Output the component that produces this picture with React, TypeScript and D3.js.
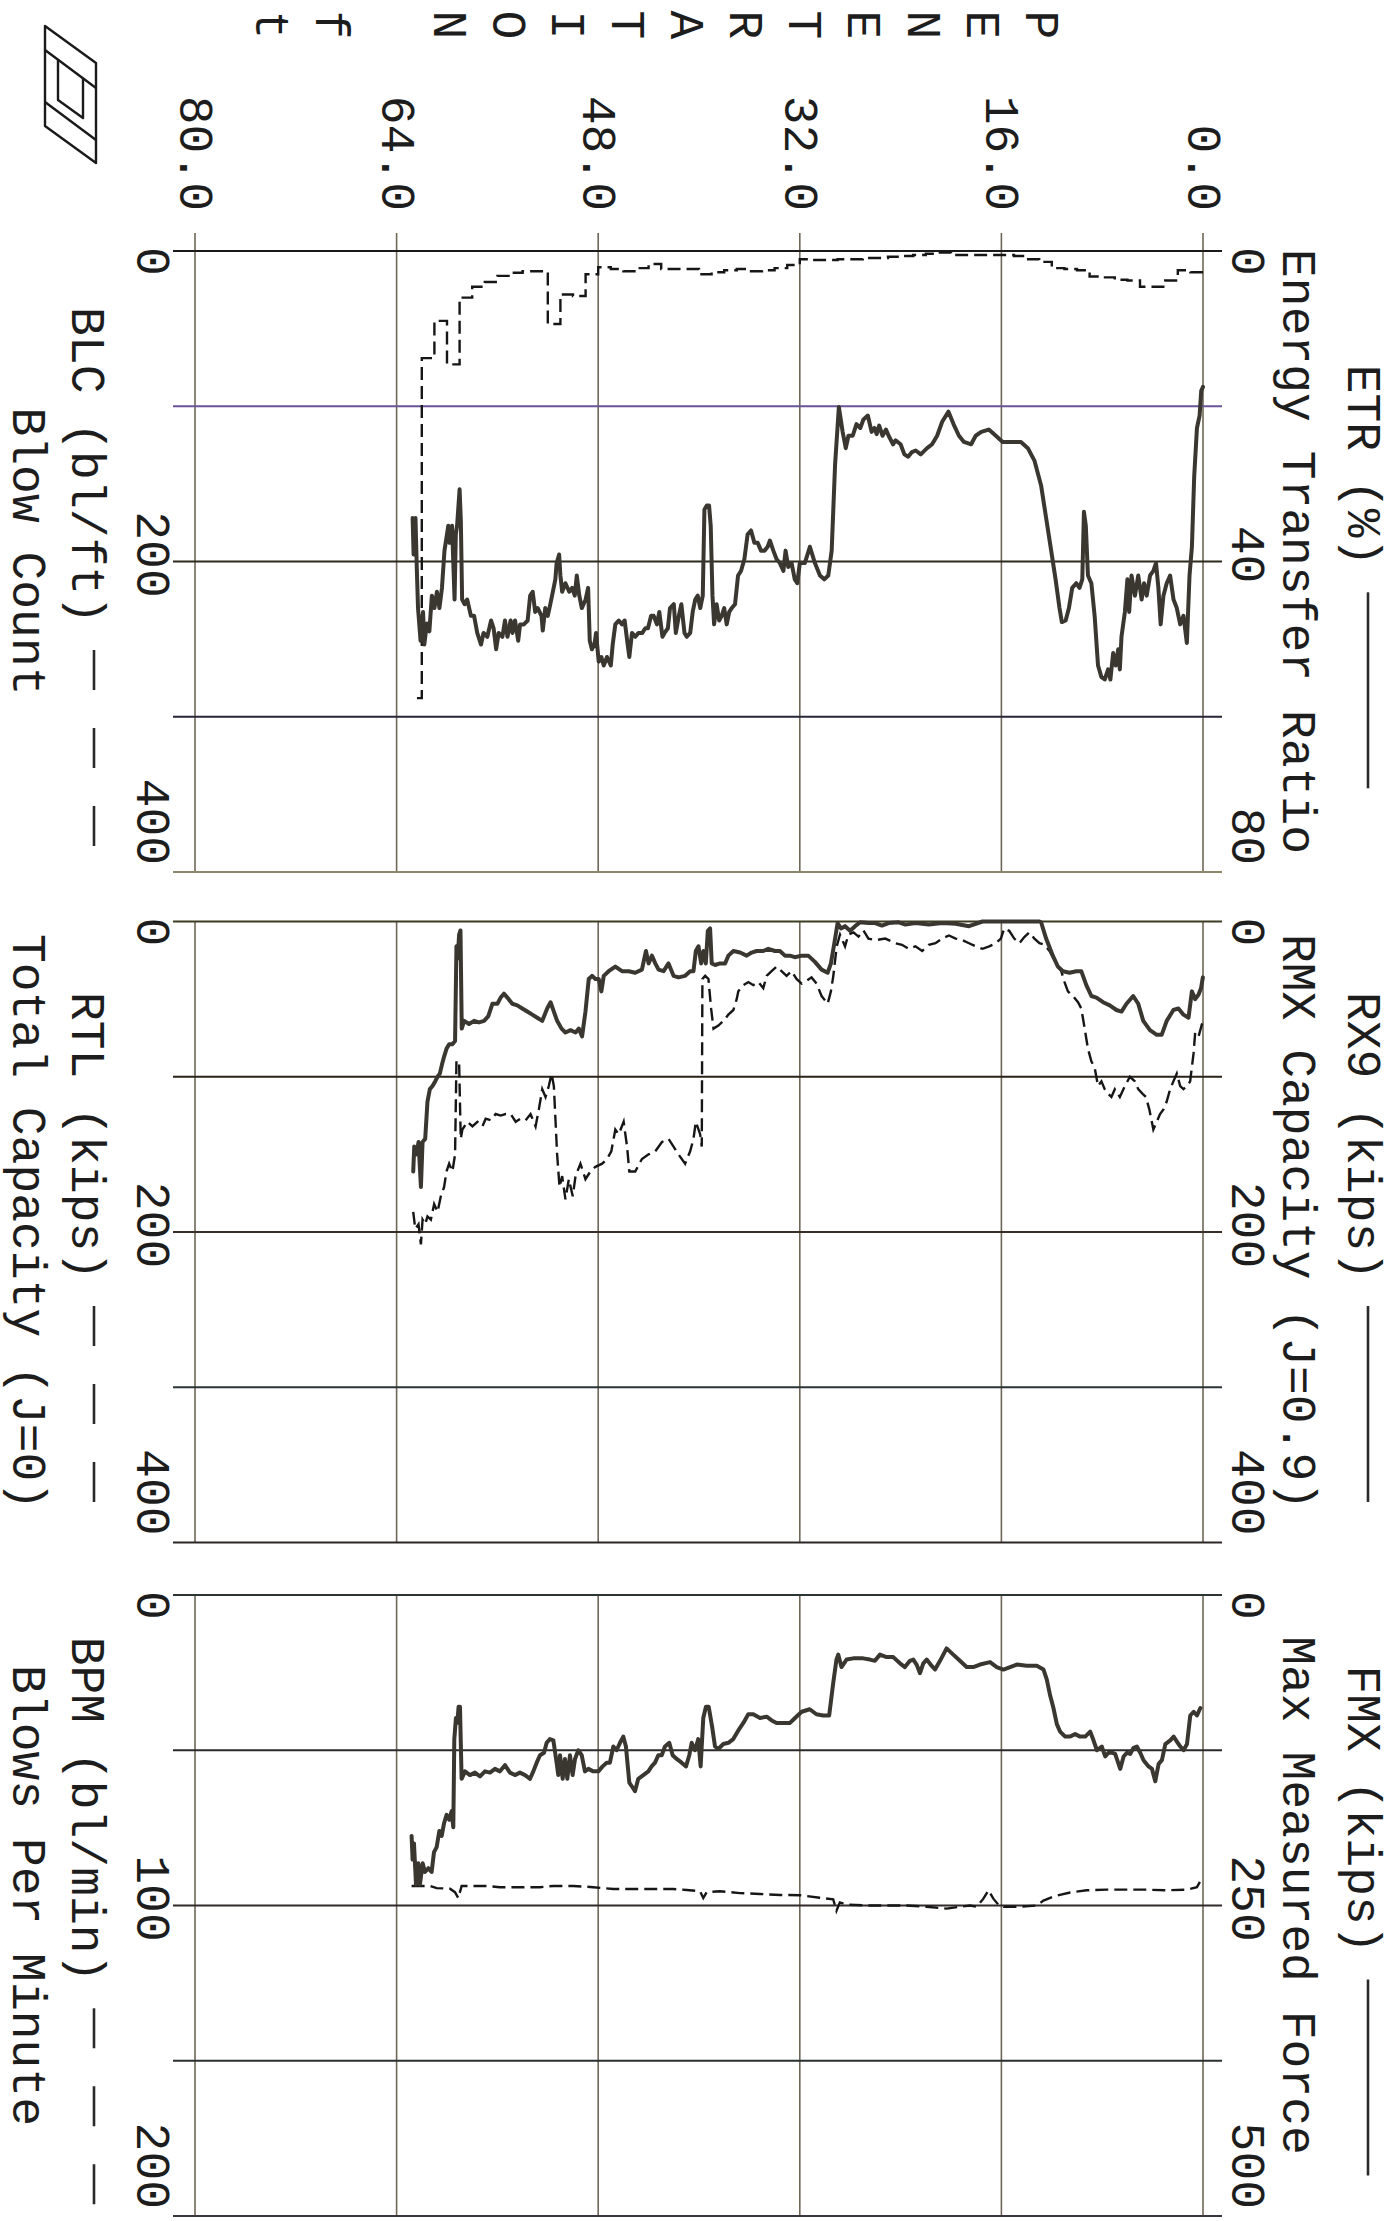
import React from "react";
import * as d3 from "d3";

// Each point is [penetration (ft), value]
type Pt = [number, number];

const penTicks = [0, 16, 32, 48, 64, 80];
const penetrationTitle = ["P", "E", "N", "E", "T", "R", "A", "T", "I", "O", "N", "", "f", "t"];

// Energy Transfer Ratio (%)
const etrSeries: Pt[] = [
  [62.73, 34.4], [62.65, 39.1], [62.5, 34.4], [62.4, 40.7], [62.3, 46], [62.1, 50.2], [61.9, 46.5], [61.8, 50.7],
  [61.6, 48], [61.4, 49], [61.2, 44.4], [61.0, 46], [60.8, 43.9], [60.6, 46], [60.4, 43.4], [60.2, 38.6],
  [60.0, 36.5], [59.9, 35.4], [59.8, 37.6], [59.6, 35.4], [59.4, 44.9], [59.3, 36.5], [59.2, 35.4], [59.0, 30.7],
  [58.9, 34.9], [58.8, 44.9], [58.6, 45.5], [58.4, 44.9], [58.1, 47], [57.85, 47], [57.6, 49.2], [57.3, 50.7],
  [57.1, 49.2], [56.8, 49.7], [56.5, 47.6], [56.3, 48.6], [56.1, 51.3], [55.9, 49.2], [55.6, 49.7], [55.4, 47.6],
  [55.2, 49.7], [54.95, 47.6], [54.8, 49.2], [54.6, 47.6], [54.35, 50.2], [54.2, 48.1], [53.9, 48.1], [53.6, 47.6],
  [53.4, 44.4], [53.2, 43.9], [53.0, 46.5], [52.8, 46], [52.5, 47], [52.4, 48.9], [52.2, 46], [52.0, 47],
  [51.8, 45.5], [51.6, 43.9], [51.4, 42.3], [51.3, 40.2], [51.1, 39.1], [51.0, 41.8], [50.86, 43.9], [50.6, 42.8],
  [50.3, 43.9], [50.07, 43.4], [49.86, 44.4], [49.7, 41.8], [49.5, 44.4], [49.3, 46], [49.0, 44.9], [48.8, 43.4],
  [48.67, 50.2], [48.5, 51.3], [48.3, 50.7], [48.17, 49.2], [47.96, 52.9], [47.75, 52.3], [47.56, 53.4], [47.3, 52.3],
  [47.0, 53.4], [46.85, 50.7], [46.64, 48.1], [46.37, 47.6], [46.11, 48.1], [45.9, 47.6], [45.7, 50.2], [45.53, 52.3],
  [45.32, 49.2], [45.06, 49.7], [44.8, 49.2], [44.5, 49.2], [44.26, 48.6], [44.05, 48.6], [43.8, 47], [43.6, 47],
  [43.34, 48.1], [43.15, 46.5], [42.9, 49.7], [42.73, 49.2], [42.47, 48.6], [42.3, 46], [42.0, 45.5], [41.84, 49.2],
  [41.6, 47], [41.4, 45.5], [41.15, 49.2], [40.97, 49.7], [40.7, 49.2], [40.5, 46.5], [40.3, 44.9], [40.1, 44.4],
  [39.9, 46], [39.7, 44.4], [39.57, 33.3], [39.38, 32.8], [39.2, 32.8], [39.07, 35.4], [38.93, 44.4], [38.8, 48.1],
  [38.6, 45.5], [38.4, 47.6], [38.2, 47], [38.0, 46], [37.8, 48.1], [37.6, 46.5], [37.4, 46], [37.14, 45.5],
  [36.9, 41.8], [36.66, 41.2], [36.4, 39.7], [36.14, 36.5], [35.87, 36], [35.6, 37.6], [35.34, 37.6], [35.08, 38.6],
  [34.8, 38.6], [34.55, 38.1], [34.37, 37.3], [34.1, 38.6], [33.84, 39.7], [33.58, 40.2], [33.3, 41.2], [33.13, 38.6],
  [32.92, 40.7], [32.65, 40.2], [32.4, 42.3], [32.2, 42.8], [32.0, 40.2], [31.87, 40.2], [31.6, 40.2], [31.2, 38.1],
  [30.8, 40.2], [30.4, 41.8], [30.06, 42.3], [29.74, 41.8], [29.47, 38.6], [29.2, 27.5], [28.9, 20.1], [28.6, 23.3],
  [28.35, 25.4], [28.14, 23.8], [27.8, 23.8], [27.5, 22.3], [27.2, 22.8], [26.95, 21.7], [26.6, 21.2], [26.3, 23.3],
  [26.07, 22.8], [25.9, 23.6], [25.7, 22.5], [25.43, 23.8], [25.16, 23], [24.95, 23.8], [24.6, 24.9], [24.4, 24.4],
  [24.0, 24.9], [23.7, 26.2], [23.4, 26.5], [23.1, 25.9], [22.8, 25.7], [22.4, 26.2], [21.9, 25.4], [21.5, 24.9],
  [21.1, 23.8], [20.7, 22], [20.2, 20.7], [19.8, 22.3], [19.37, 23.8], [18.97, 24.6], [18.4, 24.9], [18.04, 23.8],
  [17.6, 23.3], [17.0, 23], [16.44, 23.8], [15.9, 24.6], [15.1, 24.6], [14.45, 24.6], [13.9, 25.4], [13.38, 27],
  [12.85, 30.2], [12.45, 34.4], [12.05, 38.6], [11.7, 42.3], [11.39, 46], [11.2, 47.8], [10.9, 47.6], [10.64, 46],
  [10.38, 43.4], [10.06, 42.8], [9.8, 43.4], [9.58, 42.3], [9.45, 33.6], [9.3, 35.4], [9.13, 41.8], [8.86, 42.8],
  [8.6, 47], [8.33, 53.4], [8.06, 54.9], [7.8, 55.2], [7.53, 53.9], [7.35, 55.2], [7.13, 51.8], [6.92, 53.4],
  [6.73, 51.3], [6.6, 53.9], [6.47, 49.7], [6.2, 46.5], [6.0, 42.3], [5.86, 46.5], [5.67, 41.8], [5.4, 44.4],
  [5.14, 41.8], [4.87, 44.9], [4.68, 42.8], [4.47, 44.4], [4.2, 41.8], [3.94, 41.2], [3.73, 40.2], [3.54, 43.4],
  [3.36, 48.1], [3.14, 44.4], [2.88, 42.8], [2.61, 41.8], [2.34, 44.9], [2.08, 46], [1.81, 48.1], [1.55, 47],
  [1.28, 50.5], [1.07, 41.8], [0.88, 38.1], [0.7, 29.1], [0.48, 22.8], [0.27, 21.2], [0.14, 18], [0.0, 17.5],
];

// Blow count (bl/ft) for each foot of penetration: [foot start, count]
const blcSeries: Pt[] = [
  [0, 13.7], [1, 12.4], [2, 19], [3, 23], [4, 23], [5, 19], [6, 18.5], [7, 17], [8, 16.4], [9, 12.4],
  [10, 11.6], [11, 11], [12, 7], [13, 5.3], [14, 3.2], [15, 2.6], [16, 2.6], [17, 2.6], [18, 2.6], [19, 2.6],
  [20, 1], [21, 1.8], [22, 2.6], [23, 3.2], [24, 3.7], [25, 4.5], [26, 4.5], [27, 5.3], [28, 5.3], [29, 5.8],
  [30, 5.8], [31, 5.3], [32, 9], [33, 11], [34, 12.4], [35, 13], [36, 11.6], [37, 12.4], [38, 13.7], [39, 15],
  [40, 11.6], [41, 11.6], [42, 11.6], [43, 8.4], [44, 11], [45, 13], [46, 11.6], [47, 10.5], [48, 15], [49, 29],
  [50, 28], [51, 47], [52, 13], [53, 13], [54, 14], [55, 16], [56, 20], [57, 23], [58, 30], [59, 73],
  [60, 45], [61, 69], [62, 288],
];
const blcFinalDepth = 62.7;

// RMX capacity, J = 0.9 (kips)
const rx9Series: Pt[] = [
  [62.68, 161], [62.6, 145], [62.42, 150], [62.26, 142], [62.07, 171], [61.94, 142], [61.73, 140], [61.55, 116],
  [61.36, 108], [61.15, 106], [60.94, 103], [60.75, 100], [60.57, 98], [60.41, 92.5], [60.23, 87], [60.04, 82],
  [59.83, 79], [59.57, 79], [59.36, 77], [59.25, 16], [59.15, 24], [59.04, 8.4], [58.93, 5.8], [58.83, 69],
  [58.64, 64], [58.25, 66], [57.85, 64], [57.46, 65], [57.06, 64], [56.72, 61], [56.4, 53], [56.0, 53],
  [55.74, 49], [55.48, 46.5], [55.21, 49], [54.82, 53], [54.42, 54], [54.03, 56], [53.63, 58], [53.23, 60],
  [52.84, 62], [52.44, 64], [52.05, 56], [51.78, 52], [51.52, 58], [51.26, 64], [50.91, 69], [50.6, 71.5],
  [50.2, 70], [49.8, 71.5], [49.54, 69], [49.28, 74], [49.01, 58], [48.75, 37], [48.49, 35], [48.22, 37],
  [47.96, 37], [47.75, 45], [47.56, 35], [47.17, 32], [46.64, 29], [46.11, 32], [45.58, 32], [45.06, 33],
  [44.53, 31], [44.21, 19], [44.0, 27], [43.74, 22], [43.47, 27], [43.21, 31], [42.81, 32], [42.42, 27],
  [42.02, 35], [41.63, 36], [41.1, 35], [40.7, 32], [40.44, 32], [40.25, 19], [40.04, 16], [39.83, 27],
  [39.65, 19], [39.46, 27], [39.3, 6], [39.12, 4.5], [38.99, 27], [38.72, 28], [38.33, 27], [37.93, 27],
  [37.67, 22], [37.27, 19], [36.74, 20], [36.22, 22], [35.82, 20], [35.42, 19], [34.9, 19], [34.5, 17.6],
  [33.97, 19], [33.58, 19], [33.18, 22], [32.79, 22], [32.39, 23], [31.86, 22], [31.33, 22], [30.8, 26],
  [30.27, 31], [29.79, 33], [29.53, 27], [29.26, 14], [29.0, 1], [28.73, 4.5], [28.41, 3], [28.01, 6],
  [27.61, 3], [27.21, 0.5], [26.55, 1], [26.02, 1], [25.48, 2.6], [24.95, 1], [24.15, 0.5], [23.62, 2],
  [22.82, 1], [21.76, 2], [20.7, 1], [19.63, 1.5], [18.57, 3], [17.5, 0], [16.44, 0], [15.38, 0],
  [14.31, 0], [12.98, 0], [12.85, 0.5], [12.45, 11], [11.92, 22], [11.52, 29], [11.12, 32], [10.59, 33],
  [10.06, 32], [9.66, 32], [9.26, 41], [8.86, 48], [8.46, 49], [7.93, 52], [7.4, 54], [6.87, 57],
  [6.47, 58], [6.07, 53], [5.54, 48], [5.14, 53], [4.74, 64], [4.21, 70], [3.67, 73], [3.28, 73],
  [2.88, 64], [2.35, 57], [1.95, 56], [1.55, 60], [1.15, 62], [0.88, 45], [0.62, 50], [0.35, 47],
  [0.16, 43], [0.01, 36],
];

// Total capacity, J = 0 (kips)
const rtlSeries: Pt[] = [
  [62.68, 187], [62.52, 198], [62.26, 195], [62.07, 208], [61.94, 192], [61.73, 195], [61.55, 190], [61.28, 192],
  [61.02, 182], [60.75, 187], [60.49, 177], [60.23, 171], [60.04, 161], [59.83, 156], [59.57, 161], [59.36, 150],
  [59.25, 90], [59.04, 90], [58.91, 140], [58.78, 134], [58.38, 129], [57.98, 132], [57.59, 129], [57.19, 132],
  [56.93, 127], [56.53, 128], [56.14, 124], [55.74, 125], [55.35, 124], [54.95, 124], [54.55, 129], [54.16, 127],
  [53.76, 128], [53.37, 124], [52.97, 132], [52.71, 121], [52.44, 108], [52.18, 113], [51.92, 106], [51.7, 98],
  [51.52, 106], [51.26, 150], [51.07, 171], [50.86, 164], [50.6, 179], [50.33, 166], [50.02, 177], [49.8, 164],
  [49.41, 156], [49.01, 166], [48.62, 161], [48.22, 158], [47.69, 156], [47.3, 153], [46.96, 148], [46.64, 134],
  [46.37, 137], [45.98, 129], [45.71, 145], [45.53, 161], [45.06, 161], [44.53, 153], [44.0, 150], [43.47, 148],
  [42.94, 142], [42.42, 140], [42.02, 145], [41.63, 150], [41.1, 156], [40.7, 148], [40.44, 140], [40.25, 129],
  [39.91, 137], [39.78, 145], [39.73, 37], [39.51, 35], [39.25, 37], [39.04, 56], [38.85, 69], [38.46, 67],
  [38.06, 64], [37.67, 60], [37.27, 57], [37.01, 50], [36.88, 45], [36.48, 41], [36.08, 39], [35.69, 41],
  [35.29, 39], [34.9, 43], [34.63, 35], [34.24, 32], [33.84, 29], [33.45, 32], [33.05, 35], [32.65, 32],
  [32.26, 37], [31.86, 40], [31.6, 39], [31.07, 36], [30.67, 40], [30.27, 48], [29.79, 53], [29.53, 45],
  [29.34, 35], [29.07, 16], [28.81, 8.4], [28.41, 16], [28.14, 8.4], [27.74, 7], [27.34, 9.7], [26.95, 5.8],
  [26.55, 11], [26.02, 12], [25.22, 11], [24.42, 14], [23.89, 15], [23.36, 17.6], [22.82, 16], [22.29, 19],
  [21.76, 15], [21.23, 14], [20.7, 11], [20.16, 9], [19.63, 11], [19.1, 12], [18.57, 14], [18.04, 16],
  [17.5, 17.6], [16.97, 16], [16.44, 14], [16.04, 11], [15.78, 4.5], [15.38, 6], [14.98, 11], [14.58, 14],
  [14.18, 10], [13.78, 7], [13.38, 11], [12.98, 14], [12.58, 15], [12.18, 19], [11.65, 27], [11.25, 32],
  [10.99, 39], [10.72, 45], [10.32, 48], [9.92, 52], [9.66, 56], [9.39, 69], [9.13, 82], [8.86, 90],
  [8.6, 94], [8.33, 106], [8.06, 103], [7.8, 108], [7.53, 111], [7.27, 113], [7.0, 108], [6.6, 113],
  [6.2, 106], [5.8, 100], [5.4, 103], [5.14, 108], [4.79, 111], [4.53, 113], [4.26, 121], [3.94, 134],
  [3.67, 129], [3.41, 124], [3.14, 121], [2.88, 116], [2.61, 108], [2.35, 103], [2.08, 98], [1.81, 106],
  [1.55, 108], [1.28, 106], [1.02, 103], [0.75, 85], [0.62, 71.5], [0.35, 74], [0.08, 66], [0.0, 64],
];

// Maximum measured force (kips)
const fmxSeries: Pt[] = [
  [62.81, 194], [62.73, 213], [62.62, 200], [62.46, 233], [62.28, 216], [62.15, 233], [61.93, 216], [61.75, 223],
  [61.48, 220], [61.22, 223], [61.03, 207], [60.82, 203], [60.61, 190], [60.42, 194], [60.24, 184], [60.03, 177],
  [59.82, 181], [59.63, 174], [59.5, 187], [59.42, 116], [59.29, 99], [59.18, 103], [59.08, 90], [58.97, 90],
  [58.84, 148], [58.57, 142], [58.18, 145], [57.78, 143], [57.38, 146], [56.99, 142], [56.59, 143], [56.19, 140],
  [55.8, 142], [55.4, 137], [55.0, 143], [54.61, 145], [54.21, 143], [53.81, 145], [53.41, 148], [53.15, 142],
  [52.88, 135], [52.62, 129], [52.3, 127], [52.09, 119], [51.83, 116], [51.56, 117], [51.3, 135], [51.17, 145],
  [51.03, 129], [50.82, 148], [50.64, 132], [50.45, 148], [50.24, 129], [50.03, 145], [49.84, 132], [49.58, 125],
  [49.31, 129], [49.05, 142], [48.78, 140], [48.39, 142], [47.99, 142], [47.65, 138], [47.33, 135], [47.07, 135],
  [46.8, 122], [46.54, 125], [46.27, 119], [46.01, 114], [45.8, 122], [45.53, 151], [45.27, 155], [45.08, 158],
  [44.82, 148], [44.42, 145], [44.02, 142], [43.76, 138], [43.49, 135], [43.23, 129], [42.96, 129], [42.7, 122],
  [42.36, 119], [42.09, 129], [41.77, 132], [41.38, 135], [41.03, 138], [40.77, 129], [40.58, 119], [40.32, 125],
  [40.06, 116], [39.87, 138], [39.66, 99], [39.45, 90], [39.23, 90], [38.96, 106], [38.73, 122], [38.47, 124],
  [38.07, 120], [37.67, 119], [37.28, 116], [36.88, 109], [36.48, 103], [36.09, 96], [35.69, 96], [35.16, 99],
  [34.63, 98], [34.23, 101], [33.84, 103], [33.31, 103], [32.78, 103], [32.38, 99], [31.85, 94], [31.21, 92],
  [30.68, 96], [30.15, 97], [29.67, 97], [29.35, 71], [29.09, 52], [28.95, 48], [28.69, 58], [28.29, 52],
  [27.76, 51], [26.97, 51], [26.44, 52], [26.04, 53], [25.64, 48], [25.11, 50], [24.58, 50], [24.05, 55],
  [23.66, 58], [23.26, 53], [22.99, 52], [22.73, 56], [22.46, 63], [22.2, 55], [21.93, 52], [21.62, 56],
  [21.27, 60], [20.87, 53], [20.35, 43], [19.82, 48], [19.29, 53], [18.76, 58], [18.23, 58], [17.7, 56],
  [16.9, 54], [16.37, 58], [15.84, 60], [15.31, 58], [14.78, 56], [13.99, 57], [13.19, 57], [12.66, 60],
  [12.4, 68], [12.13, 81], [11.87, 91], [11.6, 104], [11.34, 110], [10.94, 114], [10.54, 114], [10.15, 112],
  [9.75, 114], [9.35, 114], [8.95, 110], [8.69, 117], [8.42, 125], [8.03, 122], [7.76, 130], [7.5, 127],
  [7.23, 127], [6.97, 128], [6.57, 140], [6.3, 130], [6.04, 127], [5.78, 128], [5.51, 123], [5.25, 122],
  [4.98, 127], [4.72, 133], [4.32, 138], [4.05, 140], [3.79, 150], [3.52, 136], [3.26, 133], [2.99, 120],
  [2.6, 117], [2.33, 114], [2.07, 118], [1.8, 122], [1.54, 125], [1.27, 120], [1.01, 97], [0.74, 94],
  [0.48, 97], [0.21, 91],
];

// Hammer blows per minute
const bpmSeries: Pt[] = [
  [62.81, 93.7], [62.15, 93.7], [61.35, 93.7], [60.82, 94.4], [59.76, 94.6], [59.37, 95.7], [59.1, 97.6], [58.84, 93.7],
  [57.91, 93.7], [56.85, 93.7], [55.8, 94.1], [54.21, 94.1], [52.62, 94.1], [51.56, 93.7], [49.98, 93.7], [48.39, 94.1],
  [46.8, 94.7], [45.21, 94.7], [43.63, 94.7], [42.04, 94.7], [40.98, 95], [39.92, 95.4], [39.66, 97.6], [39.39, 95.7],
  [38.34, 95.4], [36.75, 96], [35.16, 96.3], [33.57, 96.6], [31.99, 96.7], [30.41, 97.5], [29.35, 98], [29.09, 101.7],
  [28.82, 99], [28.29, 99.7], [26.7, 100], [25.11, 100], [23.52, 100], [21.93, 100.4], [20.35, 101], [19.29, 100.4],
  [18.49, 100], [17.96, 100.4], [17.43, 97.8], [17.03, 95.1], [16.64, 97.8], [16.24, 99.7], [15.84, 100.4], [14.52, 100.4],
  [13.19, 100], [12.66, 98.4], [11.87, 97.1], [10.54, 95.8], [9.22, 95.1], [7.63, 94.9], [6.04, 94.9], [4.45, 94.9],
  [2.86, 95.1], [1.27, 94.9], [0.48, 94.1], [0.08, 91.2],
];

const etrTicks = [0, 20, 40, 60, 80];
const etrLabels = [0, 40, 80];
const blcLabels = [0, 200, 400];
const rx9Ticks = [0, 100, 200, 300, 400];
const rx9Labels = [0, 200, 400];
const rtlLabels = [0, 200, 400];
const fmxTicks = [0, 125, 250, 375, 500];
const fmxLabels = [0, 250, 500];
const bpmLabels = [0, 100, 200];

// Page is laid out upright (u across, v down) and turned a quarter turn clockwise.
const PAGE_W = 1396;
const PAGE_H = 2221;
const FONT = "'Liberation Mono', 'DejaVu Sans Mono', monospace";
const FS = 48;
const CHAR_W = FS * 0.6;
const PANEL_H = 621;
const INK = "#1d1d1d";
const TRACE = "#3a3731";

function blcSteps(): Pt[] {
  const pts: Pt[] = [];
  blcSeries.forEach(([d, v], i) => {
    const next = i < blcSeries.length - 1 ? blcSeries[i + 1][0] : blcFinalDepth;
    pts.push([d, v], [next, v]);
  });
  return pts;
}

interface PanelDef {
  top: number;
  solid: Pt[];
  dashed: Pt[];
  solidMax: number;
  dashedMax: number;
  grid: number[];
  solidLabels: number[];
  dashedLabels: number[];
  solidTitle: string;
  solidName: string;
  dashedTitle: string;
  dashedName: string;
  gridTints: string[];
}

const panels: PanelDef[] = [
  {
    top: 251, solid: etrSeries, dashed: blcSteps(), solidMax: 80, dashedMax: 400,
    grid: etrTicks, solidLabels: etrLabels, dashedLabels: blcLabels,
    solidTitle: "ETR (%)", solidName: "Energy Transfer Ratio",
    dashedTitle: "BLC (bl/ft)", dashedName: "Blow Count",
    gridTints: ["#1a1a1a", "#6a5496", "#2b2a1c", "#262636", "#8a8866"],
  },
  {
    top: 921.5, solid: rx9Series, dashed: rtlSeries, solidMax: 400, dashedMax: 400,
    grid: rx9Ticks, solidLabels: rx9Labels, dashedLabels: rtlLabels,
    solidTitle: "RX9 (kips)", solidName: "RMX Capacity (J=0.9)",
    dashedTitle: "RTL (kips)", dashedName: "Total Capacity (J=0)",
    gridTints: ["#3c3c22", "#2a2218", "#3a2c26", "#2a3434", "#2c2626"],
  },
  {
    top: 1595, solid: fmxSeries, dashed: bpmSeries, solidMax: 500, dashedMax: 200,
    grid: fmxTicks, solidLabels: fmxLabels, dashedLabels: bpmLabels,
    solidTitle: "FMX (kips)", solidName: "Max Measured Force",
    dashedTitle: "BPM (bl/min)", dashedName: "Blows Per Minute",
    gridTints: ["#2c3434", "#2a2a2a", "#322a2a", "#2a3030", "#3a3440"],
  },
];

const penY = d3.scaleLinear().domain([0, 80]).range([193, 1201]);
const fmtPen = d3.format(".1f");

function Panel({ p, first }: { p: PanelDef; first: boolean }) {
  const bottom = p.top + PANEL_H;
  const solidU = d3.scaleLinear().domain([0, p.solidMax]).range([p.top, bottom]);
  const dashedU = d3.scaleLinear().domain([0, p.dashedMax]).range([p.top, bottom]);
  const solidLine = d3.line<Pt>().x((d) => solidU(d[1])).y((d) => penY(d[0]));
  const dashedLine = d3.line<Pt>().x((d) => dashedU(d[1])).y((d) => penY(d[0]));
  const gridU = d3.scaleLinear().domain([0, p.grid[p.grid.length - 1]]).range([p.top, bottom]);
  const center = (p.top + bottom) / 2;

  const anchorFor = (i: number, n: number) => (i === 0 ? "start" : i === n - 1 ? "end" : "middle");
  const labelU = (i: number, n: number, u: number) => (i === 0 ? u - 4 : u - 7);

  const legendGap = 26;
  const legendLen = 196;
  const topW = p.solidTitle.length * CHAR_W + legendGap + legendLen;
  const topStart = center + 15 - topW / 2;
  const botW = p.dashedTitle.length * CHAR_W + legendGap + legendLen;
  const botStart = center + 15 - botW / 2;

  return (
    <g>
      {/* penetration grid */}
      {penTicks.map((t) => (
        <line key={"pg" + t} x1={first ? 233 : p.top} x2={bottom} y1={penY(t)} y2={penY(t)}
          stroke="#6f6757" strokeWidth={1.6} />
      ))}
      {/* value grid with tick stubs past both ends */}
      {p.grid.map((t, i) => (
        <line key={"vg" + t} x1={gridU(t)} x2={gridU(t)} y1={174} y2={1223}
          stroke={p.gridTints[i]} strokeWidth={1.9} />
      ))}
      {/* traces */}
      <path d={dashedLine(p.dashed) ?? ""} fill="none" stroke="#161616" strokeWidth={2.4}
        strokeDasharray="13 6" />
      <path d={solidLine(p.solid) ?? ""} fill="none" stroke={TRACE} strokeWidth={4}
        strokeLinejoin="round" strokeLinecap="round" />
      {/* scale labels */}
      {p.solidLabels.map((t, i, a) => (
        <text key={"sl" + t} x={labelU(i, a.length, solidU(t))} y={164}
          textAnchor={anchorFor(i, a.length)}>{t}</text>
      ))}
      {p.dashedLabels.map((t, i, a) => (
        <text key={"dl" + t} x={labelU(i, a.length, dashedU(t))} y={1259}
          textAnchor={anchorFor(i, a.length)}>{t}</text>
      ))}
      {/* titles and legend keys */}
      <text x={topStart} y={48}>{p.solidTitle}</text>
      <line x1={topStart + p.solidTitle.length * CHAR_W + legendGap} x2={topStart + topW}
        y1={28} y2={28} stroke="#2a2a2a" strokeWidth={2.6} />
      <text x={center - 10} y={113} textAnchor="middle">{p.solidName}</text>
      <text x={botStart} y={1324}>{p.dashedTitle}</text>
      <line x1={botStart + p.dashedTitle.length * CHAR_W + legendGap} x2={botStart + botW}
        y1={1302} y2={1302} stroke="#2a2a2a" strokeWidth={2.6} strokeDasharray="40 38" />
      <text x={center - 10} y={1383} textAnchor="middle">{p.dashedName}</text>
    </g>
  );
}

export default function App() {
  return (
    <svg width={PAGE_W} height={PAGE_H} viewBox={`0 0 ${PAGE_W} ${PAGE_H}`}
      style={{ position: "absolute", left: 0, top: 0, background: "#fff" }}>
      <rect x={0} y={0} width={PAGE_W} height={PAGE_H} fill="#fff" />
      <g transform={`translate(${PAGE_W},0) rotate(90)`} fontFamily={FONT} fontSize={FS} fill={INK}>
        {panels.map((p, i) => (
          <Panel key={i} p={p} first={i === 0} />
        ))}
        {/* penetration axis labels */}
        {penTicks.map((t) => (
          <text key={"pl" + t} x={211} y={penY(t) + 15} textAnchor="end">{fmtPen(t)}</text>
        ))}
        {penetrationTitle.map((ch, i) =>
          ch ? (
            <text key={"pt" + i} x={25} y={354 + 59.2 * i + 16} textAnchor="middle">{ch}</text>
          ) : null
        )}
      </g>
      {/* PDI logo */}
      <g fill="none" stroke="#1a1a1a" strokeWidth={2.4} strokeLinejoin="round">
        <path d="M45,26 L96,63 L96,163 L45,126 Z" />
        <path d="M45,50 L96,88" />
        <path d="M58,60 L58,100 L83,118 L83,78" />
        <path d="M45,102 L96,140" />
      </g>
    </svg>
  );
}
